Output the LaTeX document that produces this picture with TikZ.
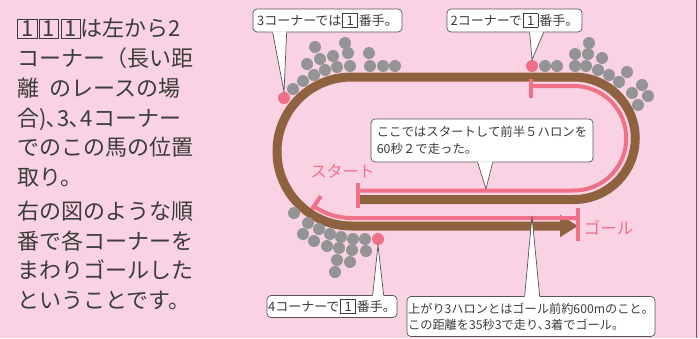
\documentclass[tikz,border=0pt]{standalone}
\usepackage{fontspec}
\setmainfont{Noto Sans CJK JP}
\usetikzlibrary{matrix,arrows.meta}

\definecolor{bgpink}{RGB}{249,211,228}
\definecolor{trackbrown}{RGB}{142,98,62}
\definecolor{markpink}{RGB}{240,113,135}
\definecolor{horsegray}{RGB}{148,148,150}
\definecolor{inkgray}{RGB}{60,60,60}
\definecolor{boxline}{RGB}{85,85,85}
\definecolor{edgeline}{RGB}{105,88,88}

% boxed position number
\newcommand{\numbox}[1]{{\fboxsep=0pt\fboxrule=0.6pt\fbox{\makebox[0.85em]{\rule[-0.07em]{0pt}{0.87em}#1}}}}
\newcommand{\rankbox}[1]{\kern1pt{\fboxsep=0pt\fboxrule=0.6pt\fbox{\makebox[1.1em]{\rule[-0.1em]{0pt}{1.0em}#1}}}\kern1pt}
% tail of a callout: anchor, left offset, right offset, inward shift, tip
\newcommand{\calltail}[5]{%
  \fill[white] ([xshift=#2,yshift=#4]#1) -- (#5) -- ([xshift=#3,yshift=#4]#1) -- cycle;
  \draw[boxline, line width=0.7pt] ([xshift=#2]#1) -- (#5) -- ([xshift=#3]#1);}

\tikzset{
  callout/.style={draw=boxline, fill=white, line width=0.7pt, rounded corners=4pt,
    inner sep=0pt, text=inkgray, align=left},
  pinkdot/.style={circle, fill=markpink, minimum size=12pt, inner sep=0pt},
  markline/.style={markpink, line width=4pt},
  marklabel/.style={text=markpink, inner sep=0pt, font=\fontsize{16}{16}\selectfont}
}

\begin{document}
\begin{tikzpicture}[x=1pt,y=1pt]
  \fill[bgpink] (0,0) rectangle (700,-338);
  \useasboundingbox (0,0) rectangle (700,-338);
  \draw[edgeline, line width=1pt] (696.3,0) -- (696.3,-338);

  \matrix (txt) [matrix of nodes, ampersand replacement=\&, anchor=north west,
    inner sep=0pt, row sep=4.7pt,
    nodes={anchor=base west, inner sep=0pt, text height=20pt, text depth=5pt,
      font=\fontsize{22}{26}\selectfont, text=inkgray}] at (17,-16.7) {
    \numbox{1}\hspace{2pt}\numbox{1}\hspace{2pt}\numbox{1}は左から2 \\
    コーナー（長い距 \\
    離\hspace{0.45em}のレースの場 \\
    合)､3､4コーナー \\
    でのこの馬の位置 \\
    取り。 \\[4.3pt]
    右の図のような順 \\
    番で各コーナーを \\
    まわりゴールした \\
    ということです。 \\
  };

  % track
  \draw[trackbrown, line width=9pt, -{Triangle[length=18pt,width=21pt]}]
    (359,-199.5) -- (574,-199.5) arc[start angle=-90, end angle=90, radius=61.25]
    -- (351.5,-77) arc[start angle=90, end angle=270, radius=74.5] -- (578,-226);

  % first 5 furlongs
  \draw[markline] (358,-190.5) -- (574,-190.5) arc[start angle=-90, end angle=90, radius=52.25] -- (531,-86);
  \draw[markline] (358,-183) -- (358,-208);
  \draw[markline] (531,-79) -- (531,-98);
  % last 3 furlongs
  \draw[markline] (351.5,-151.5) ++(235.5:66.5) arc[start angle=235.5, end angle=270, radius=66.5] -- (578,-218);
  \draw[markline, shift={(351.5,-151.5)}] (235.5:54) -- (235.5:70);
  \draw[markline] (578,-208) -- (578,-241);

  \node[marklabel] (start) at (342.5,-171.5) {スタート};
  \node[marklabel, font=\fontsize{16.5}{16.5}\selectfont] (goal) at (608.5,-228) {ゴール};

  % other horses
  \foreach \x/\y in {293/89,303/81,314/75,307/64,320/59,315/47,325/70,333/56,337/67,345/43,
      348/53,350/66,369/53,370/66,383/66,395/66,
      545/66,557/66,575/54,575/66,589/43,588/54,586/66,602/58,598/70,609/75,627/72,
      619/82,642/85,632/93,648/96,638/105,
      294/213,308/223,303/234,319/229,314/241,330/234,327/246,341/237,339/248,337/260,
      335/272,353/239,352/250,350/262,365/239,366/251}
    \fill[horsegray] (\x,-\y) circle (6);

  \node[pinkdot] (p3) at (284,-98) {};
  \node[pinkdot] (p2) at (532,-66) {};
  \node[pinkdot] (p4) at (378,-239) {};
  \coordinate (halfpt) at (486,-189);
  \coordinate (uppt) at (532,-216);

  % callouts
  \node[callout, minimum width=149pt, minimum height=23pt, font=\fontsize{13}{15}\selectfont]
    (call3) at (327.5,-20.5) {3コーナーでは\rankbox{1}番手。};
  \calltail{call3.south west}{20pt}{34pt}{1pt}{p3.north}

  \node[callout, minimum width=135pt, minimum height=23pt, font=\fontsize{13}{15}\selectfont]
    (call2) at (514.5,-20.5) {2コーナーで\rankbox{1}番手。};
  \calltail{call2.south west}{83pt}{97pt}{1pt}{p2.north}

  \node[callout, minimum width=222pt, minimum height=43pt, font=\fontsize{12.4}{17}\selectfont]
    (callhalf) at (482,-140.5) {ここではスタートして前半５ハロンを\\60秒２で走った。};
  \calltail{callhalf.south west}{107pt}{122pt}{1pt}{halfpt}

  \node[callout, minimum width=130pt, minimum height=22pt, font=\fontsize{13}{15}\selectfont]
    (call4) at (332,-306.5) {4コーナーで\rankbox{1}番手。};
  \calltail{call4.north west}{106pt}{117pt}{-1pt}{p4.south}

  \node[callout, minimum width=248pt, minimum height=40pt, font=\fontsize{12.2}{16}\selectfont]
    (callup) at (531,-316.5) {上がり3ハロンとはゴール前約600mのこと。\\この距離を35秒3で走り､3着でゴール。};
  \calltail{callup.north west}{118pt}{133pt}{-1pt}{uppt}
\end{tikzpicture}
\end{document}
